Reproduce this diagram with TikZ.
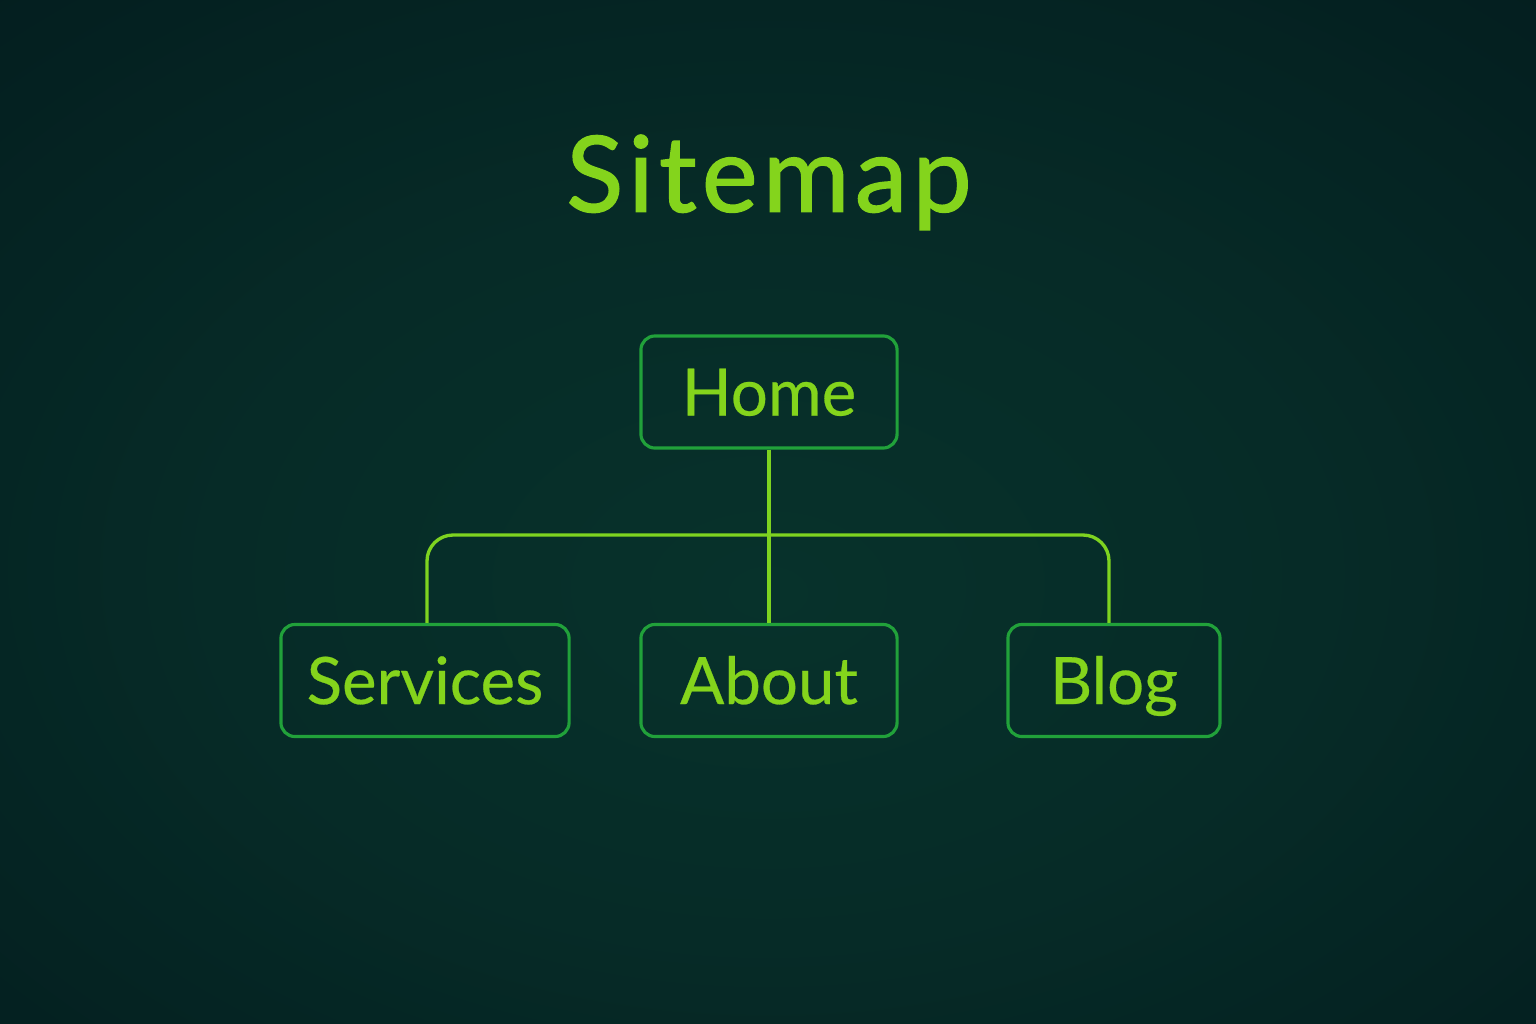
\documentclass[tikz,border=0pt]{standalone}
\usepackage{fontspec}
\setmainfont{Lato}
\newfontfamily\titlefont[FakeBold=1.3,LetterSpace=5]{Lato}
\newfontfamily\boxfont[FakeBold=0.4]{Lato}
\definecolor{bgin}{HTML}{07322B}
\definecolor{bgmid}{HTML}{062B27}
\definecolor{bgout}{HTML}{03191C}
\definecolor{bgcorner}{HTML}{021417}
\definecolor{lime}{HTML}{84D41C}
\definecolor{boxgreen}{HTML}{21A13A}
\definecolor{linelime}{HTML}{7ED320}
\pgfdeclareradialshading{vign}{\pgfpoint{0bp}{-4bp}}{color(0bp)=(bgin); color(18bp)=(bgmid); color(45bp)=(bgout); color(75bp)=(bgcorner)}
\tikzset{
  sitebox/.style={draw=boxgreen, line width=0.9pt, rounded corners=0.14cm, text=lime,
    font=\fontsize{18.6}{19}\boxfont, text height=13.4pt, text depth=0pt, inner sep=0pt,
    minimum height=1.12cm},
  titletext/.style={text=lime, font=\fontsize{30}{30}\titlefont, text height=21.5pt, text depth=0pt, inner sep=0pt},
  link/.style={draw=linelime, line width=0.95pt}
}
\begin{document}
\begin{tikzpicture}[x=0.01cm,y=-0.01cm]
\useasboundingbox (0,0) rectangle (1536,1024);
\shade[shading=vign] (0,0) rectangle (1536,1024);
\node[titletext] (title) at (769,174) {Sitemap};
\node[sitebox, minimum width=2.56cm] (home) at (769,392) {Home};
\node[sitebox, minimum width=2.88cm] (services) at (425,680.5) {Services};
\node[sitebox, minimum width=2.56cm] (about) at (769,680.5) {About};
\node[sitebox, minimum width=2.12cm] (blog) at (1114,680.5) {Blog};
\coordinate (bus) at (769,535);
\draw[link] (home.south) -- (about.north);
\draw[link, rounded corners=0.26cm] ([xshift=0.02cm]services.north) |- (bus) -| ([xshift=-0.05cm]blog.north);
\end{tikzpicture}
\end{document}
